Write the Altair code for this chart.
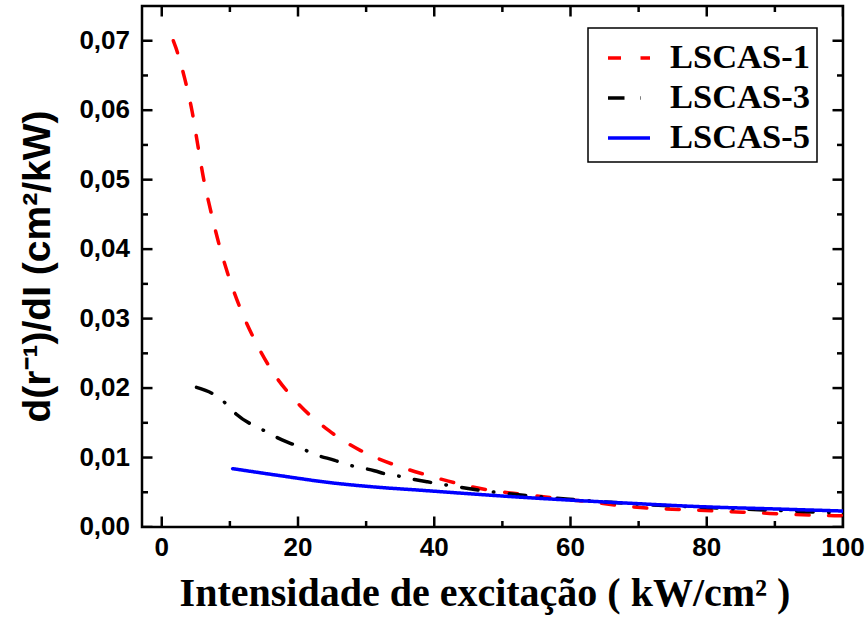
import altair as alt
import pandas as pd

series_names = ["LSCAS-1", "LSCAS-3", "LSCAS-5"]
series_colors = ["#ff0000", "#000000", "#0000ff"]

x_l1 = [1.7, 2.07, 3.41, 4.48, 5.27, 6.09, 7.12, 8.27, 9.68, 11.35, 13.44, 16.1, 19.8, 24.5,
        29.2, 34.0, 38.8, 43.3, 48.1, 52.9, 58.3, 63.0, 67.1, 71.7, 76.6, 81.4, 86.1, 95.5, 100.0]
y_l1 = [0.0700, 0.0690, 0.0644, 0.0597, 0.0551, 0.0504, 0.0458, 0.0412, 0.0365, 0.0319, 0.0273,
        0.0226, 0.0180, 0.0139, 0.0110, 0.0090, 0.0075, 0.0063, 0.0053, 0.0047, 0.0041, 0.0036,
        0.0031, 0.0027, 0.0025, 0.0023, 0.0021, 0.0017, 0.0016]

x_l3 = [5.1, 7.8, 9.5, 11.0, 13.7, 15.4, 17.1, 19.5, 21.2, 22.9, 25.4, 27.1, 29.0, 31.2, 33.0,
        34.9, 37.3, 39.0, 42.7, 49.0, 53.9, 59.8, 65.2, 70.0, 80.0, 90.0, 100.0]
y_l3 = [0.0201, 0.0190, 0.0177, 0.0162, 0.0145, 0.0137, 0.0128, 0.0118, 0.0110, 0.0103, 0.0096,
        0.0090, 0.0086, 0.0081, 0.0076, 0.0073, 0.0068, 0.0065, 0.0059, 0.0050, 0.0045, 0.0040,
        0.0036, 0.0033, 0.0028, 0.0024, 0.0020]

x_l5 = [10.4, 17.3, 24.6, 32.0, 37.9, 40.7, 52.5, 61.2, 67.1, 79.8, 90.0, 100.0]
y_l5 = [0.0084, 0.0074, 0.0064, 0.0057, 0.0053, 0.0051, 0.0043, 0.0038, 0.0035, 0.0029, 0.0026, 0.0023]

x_major = [0, 20, 40, 60, 80, 100]
x_minor = [10, 30, 50, 70, 90]
x_labels = ["0", "20", "40", "60", "80", "100"]
y_major = [0.0, 0.01, 0.02, 0.03, 0.04, 0.05, 0.06, 0.07]
y_minor = [0.005, 0.015, 0.025, 0.035, 0.045, 0.055, 0.065]
y_labels = ["0,00", "0,01", "0,02", "0,03", "0,04", "0,05", "0,06", "0,07"]

x_title = "Intensidade de excitação ( kW/cm² )"
y_title = "d(r⁻¹)/dI (cm²/kW)"

rows = []
for name, xs_, ys_ in zip(series_names, [x_l1, x_l3, x_l5], [y_l1, y_l3, y_l5]):
    for a, b in zip(xs_, ys_):
        rows.append({"series": name, "x": a, "y": b})
df = pd.DataFrame(rows)

xticks = pd.DataFrame({"v": x_major + x_minor,
                       "kind": ["major"] * len(x_major) + ["minor"] * len(x_minor)})
yticks = pd.DataFrame({"v": y_major + y_minor,
                       "kind": ["major"] * len(y_major) + ["minor"] * len(y_minor)})

W, H = 701, 521
xscale = alt.Scale(domain=[-2.9, 100], nice=False, zero=False)
yscale = alt.Scale(domain=[0, 0.075], nice=False, zero=False)
tick_len = alt.Size("kind:O", scale=alt.Scale(domain=["major", "minor"], range=[21, 12]),
                    legend=None)

legend = alt.Legend(title=None, orient="none", legendX=446, legendY=22,
                    symbolType="stroke", symbolSize=1764, symbolStrokeWidth=3.5,
                    labelFont="Liberation Serif", labelFontWeight="bold", labelFontSize=34.5,
                    labelColor="black", strokeColor="black", fillColor="white",
                    padding=7, rowPadding=0, labelOffset=18, symbolOffset=11)

color = alt.Color("series:N", scale=alt.Scale(domain=series_names, range=series_colors),
                  legend=legend)
dash = alt.StrokeDash("series:N",
                      scale=alt.Scale(domain=series_names,
                                      range=[[13, 19.5], [16.5, 15.5, 0.5, 15.5], [1, 0]]),
                      legend=legend)

lines = alt.Chart(df).mark_line(strokeWidth=3.5, strokeCap="round", interpolate="monotone",
                                clip=True).encode(
    x=alt.X("x:Q", scale=xscale, axis=None),
    y=alt.Y("y:Q", scale=yscale, axis=None),
    color=color,
    strokeDash=dash,
)

tick_style = dict(thickness=2.5, color="black", clip=True, opacity=1)

bottom_ticks = alt.Chart(xticks).mark_tick(orient="vertical", **tick_style).encode(
    x=alt.X("v:Q", scale=xscale, axis=None), y=alt.value(H), size=tick_len)
top_ticks = alt.Chart(xticks).mark_tick(orient="vertical", **tick_style).encode(
    x=alt.X("v:Q", scale=xscale, axis=None), y=alt.value(0), size=tick_len)
left_ticks = alt.Chart(yticks).mark_tick(orient="horizontal", **tick_style).encode(
    y=alt.Y("v:Q", scale=yscale, axis=None), x=alt.value(0), size=tick_len)
right_ticks = alt.Chart(yticks).mark_tick(orient="horizontal", **tick_style).encode(
    y=alt.Y("v:Q", scale=yscale, axis=None), x=alt.value(W), size=tick_len)

x_tick_text = alt.Chart(pd.DataFrame({"x": x_major, "label": x_labels})).mark_text(
    font="Liberation Sans", fontWeight="bold", fontSize=26, color="black",
    align="center", baseline="top").encode(
    x=alt.X("x:Q", scale=xscale, axis=None), y=alt.value(H + 8), text="label:N")

y_tick_text = alt.Chart(pd.DataFrame({"y": y_major, "label": y_labels})).mark_text(
    font="Liberation Sans", fontWeight="bold", fontSize=26, color="black",
    align="right", baseline="middle").encode(
    y=alt.Y("y:Q", scale=yscale, axis=None), x=alt.value(-12), text="label:N")

x_title_text = alt.Chart(pd.DataFrame({"t": [x_title]})).mark_text(
    font="Liberation Serif", fontWeight="bold", fontSize=40, color="black",
    align="center", baseline="alphabetic").encode(
    x=alt.value(343), y=alt.value(600), text="t:N")

y_title_text = alt.Chart(pd.DataFrame({"t": [y_title]})).mark_text(
    font="Liberation Sans", fontWeight="bold", fontSize=39, color="black",
    align="center", baseline="alphabetic", angle=270).encode(
    x=alt.value(-92), y=alt.value(260.5), text="t:N")

chart = alt.layer(lines, bottom_ticks, top_ticks, left_ticks, right_ticks,
                  x_tick_text, y_tick_text, x_title_text, y_title_text).properties(
    width=W, height=H,
    autosize=alt.AutoSizeParams(type="none"),
    padding={"left": 142, "top": 6, "right": 23, "bottom": 96},
    background="white",
).configure_view(
    stroke="black", strokeWidth=2.5
).configure_legend(
    strokeWidth=1.5
)

chart.save("out.html", embed_options={"renderer": "svg", "actions": False})
